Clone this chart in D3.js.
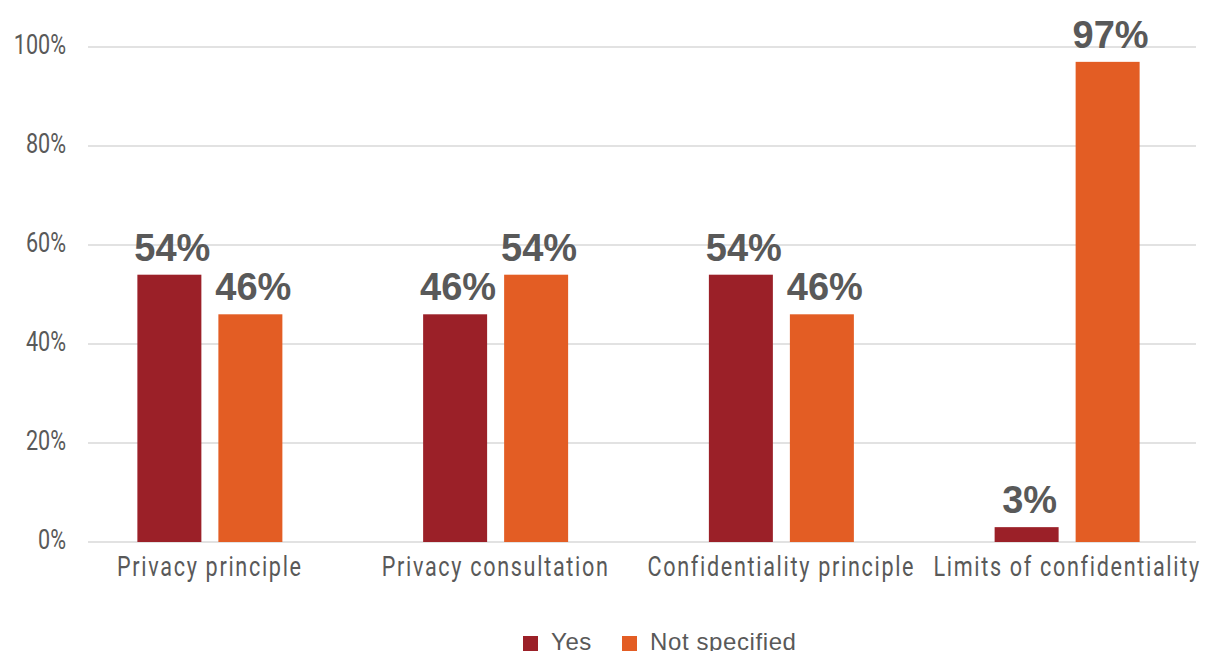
<!DOCTYPE html>
<html>
<head>
<meta charset="utf-8">
<script src="https://cdn.jsdelivr.net/npm/d3@7"></script>
<style>
  html, body { margin: 0; padding: 0; background: #fff; overflow: hidden; }
  svg { display: block; }
</style>
</head>
<body>
<svg id="chart" width="1206" height="651"></svg>
<script>
// Categories and series
const categories = ["Privacy principle", "Privacy consultation", "Confidentiality principle", "Limits of confidentiality"];
const seriesNames = ["Yes", "Not specified"];
const yesValues = [54, 46, 54, 3];
const notSpecifiedValues = [46, 54, 46, 97];
const yTicks = [0, 20, 40, 60, 80, 100];
const seriesColors = ["#9B2028", "#E35D24"];

const svg = d3.select("#chart");
const textColor = "#595959";
const narrow = 0.8; // horizontal squeeze for the condensed axis text

const y = d3.scaleLinear().domain([0, 100]).range([542, 47]);
const x0 = d3.scaleBand().domain(categories).range([67, 1210]);
const x1 = d3.scaleBand().domain(seriesNames).range([-72.5, 72.5]).paddingInner(0.21);
const color = d3.scaleOrdinal().domain(seriesNames).range(seriesColors);

// Gridlines
svg.append("g").selectAll("line").data(yTicks).join("line")
  .attr("x1", 88).attr("x2", 1196)
  .attr("y1", d => y(d)).attr("y2", d => y(d))
  .attr("stroke", "#d9d9d9").attr("stroke-width", 1.3);

// Y tick labels
svg.append("g").selectAll("text").data(yTicks).join("text")
  .attr("transform", d => `translate(66,${y(d) + 7}) scale(${narrow},1)`)
  .attr("text-anchor", "end")
  .attr("font-family", "Roboto, sans-serif")
  .attr("font-size", 27).attr("fill", textColor)
  .text(d => d + "%");

// Bars
const rows = categories.map((c, i) => ({
  category: c,
  values: [
    { series: "Yes", value: yesValues[i] },
    { series: "Not specified", value: notSpecifiedValues[i] }
  ]
}));

const groups = svg.append("g").selectAll("g").data(rows).join("g")
  .attr("transform", d => `translate(${x0(d.category) + x0.bandwidth() / 2},0)`);

groups.selectAll("rect").data(d => d.values).join("rect")
  .attr("x", d => x1(d.series))
  .attr("width", x1.bandwidth())
  .attr("y", d => y(d.value))
  .attr("height", d => y(0) - y(d.value))
  .attr("fill", d => color(d.series));

groups.selectAll("text.val").data(d => d.values).join("text")
  .attr("class", "val")
  .attr("x", d => x1(d.series) + x1.bandwidth() / 2 + 3)
  .attr("y", d => y(d.value) - 14)
  .attr("text-anchor", "middle")
  .attr("font-family", "Liberation Sans, Arial, sans-serif")
  .attr("font-weight", "bold")
  .attr("font-size", 38)
  .attr("fill", textColor)
  .text(d => d.value + "%");

// Category labels
svg.append("g").selectAll("text").data(categories).join("text")
  .attr("transform", d => `translate(${x0(d) + x0.bandwidth() / 2},576) scale(${narrow},1)`)
  .attr("text-anchor", "middle")
  .attr("font-family", "Roboto, sans-serif")
  .attr("font-size", 27)
  .attr("letter-spacing", 2.1)
  .attr("fill", textColor)
  .text(d => d);

// Legend
const legend = svg.append("g").attr("font-family", "Liberation Sans, Arial, sans-serif");
const legendX = [523, 622];
seriesNames.forEach((s, i) => {
  legend.append("rect")
    .attr("x", legendX[i]).attr("y", 636)
    .attr("width", 15).attr("height", 15)
    .attr("fill", color(s));
  legend.append("text")
    .attr("x", legendX[i] + 28).attr("y", 650)
    .attr("font-size", 24).attr("letter-spacing", 0.6)
    .attr("fill", textColor)
    .text(s);
});
</script>
</body>
</html>
